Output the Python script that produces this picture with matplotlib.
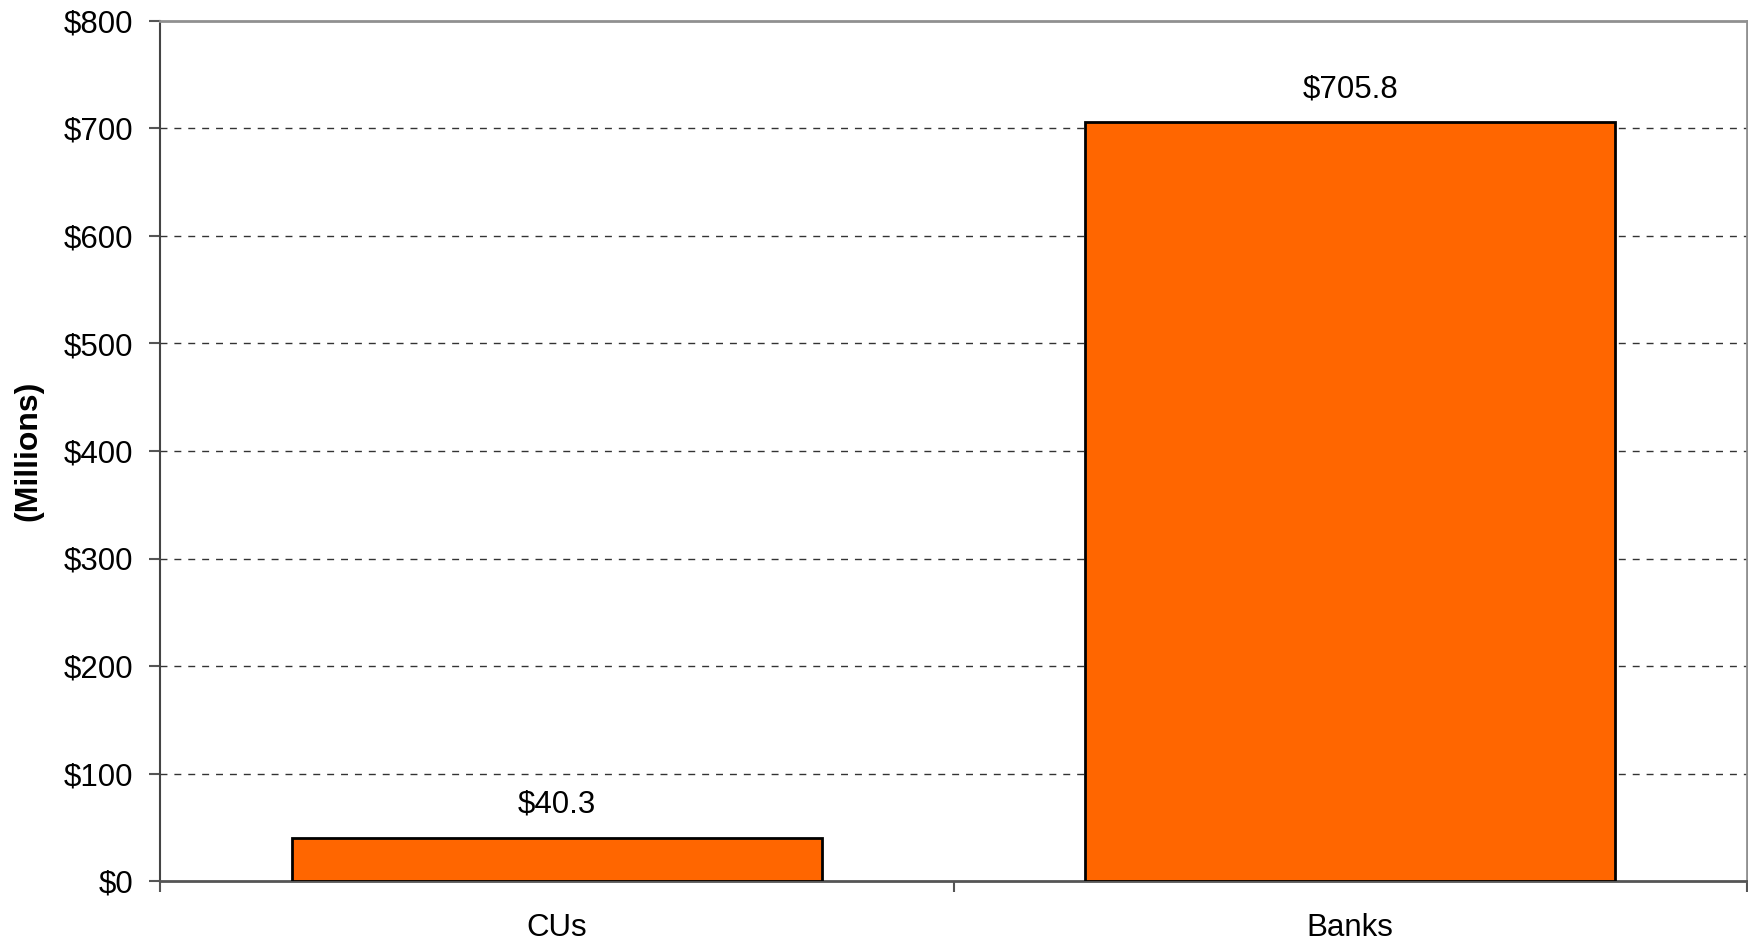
import matplotlib
matplotlib.use("Agg")
import matplotlib.pyplot as plt
import numpy as np

categories = ["CUs", "Banks"]
values = [40.3, 705.8]
bar_labels = ["$40.3", "$705.8"]
yticks = [0, 100, 200, 300, 400, 500, 600, 700, 800]
ytick_labels = ["$0", "$100", "$200", "$300", "$400", "$500", "$600", "$700", "$800"]

plt.rcParams['font.family'] = ['Liberation Sans', 'DejaVu Sans']

W, H = 1749, 946
fig = plt.figure(figsize=(W / 100, H / 100), dpi=100)
left, right, top, bottom = 160, 1747, 21, 881
ax = fig.add_axes([left / W, 1 - bottom / H, (right - left) / W, (bottom - top) / H])

FS = 22.5
x = np.arange(len(categories))
ax.bar(x, values, width=0.668, color="#FF6600", edgecolor="black", linewidth=2, zorder=3)
ax.set_xlim(-0.5, len(categories) - 0.5)
ax.set_ylim(0, 800)

for xi, v, lab in zip(x, values, bar_labels):
    ax.annotate(lab, (xi, v), xytext=(0, 13), textcoords="offset points",
                ha="center", va="bottom", fontsize=FS, color="black")

ax.set_yticks(yticks)
ax.set_yticklabels(ytick_labels, fontsize=FS)
ax.set_xticks(x)
ax.set_xticklabels(categories, fontsize=FS)
ax.set_xticks(np.arange(-0.5, len(categories)), minor=True)
ax.tick_params(axis="x", which="major", length=0, pad=23)
ax.tick_params(axis="x", which="minor", length=8, width=1.5, color="#555555")
ax.tick_params(axis="y", length=8, width=1.5, color="#555555", pad=11)

for yv in yticks[1:-1]:
    ax.axhline(yv, color="#333333", linewidth=1, linestyle=(0, (5, 5)), zorder=1)

ax.spines["left"].set_color("#444444")
ax.spines["left"].set_linewidth(1.5)
ax.spines["bottom"].set_color("#555555")
ax.spines["bottom"].set_linewidth(2)
ax.spines["top"].set_color("#909090")
ax.spines["top"].set_linewidth(2)
ax.spines["right"].set_color("#909090")
ax.spines["right"].set_linewidth(2)

fig.text(28 / W, 1 - 451 / H, "(Millions)", rotation=90, ha="center", va="center",
         fontsize=23, fontweight="bold")

fig.savefig("out.png", dpi=100, facecolor="white")
